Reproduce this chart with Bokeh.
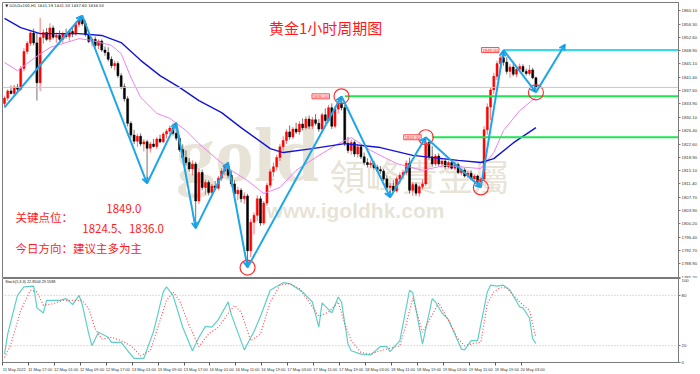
from bokeh.plotting import figure
from bokeh.layouts import column
from bokeh.models import (ColumnDataSource, Range1d, FixedTicker, NumeralTickFormatter,
                          Label, Span, Arrow, VeeHead)
from bokeh.embed import file_html
from bokeh.resources import INLINE

# ---------------- data ----------------
open_ = [1834.0, 1835.5, 1837.5, 1836.8, 1838.6, 1838.0, 1843.8, 1848.6, 1850.9, 1853.8,
         1851.0, 1839.8, 1852.5, 1853.9, 1852.0, 1855.2, 1852.6, 1853.1, 1852.0, 1853.6,
         1852.8, 1854.2, 1853.5, 1856.2, 1857.5, 1856.4, 1853.3, 1851.4, 1852.0, 1850.3,
         1851.5, 1849.0, 1848.3, 1846.4, 1844.6, 1845.2, 1841.8, 1838.7, 1835.3, 1828.4,
         1825.1, 1823.4, 1824.8, 1822.6, 1823.2, 1821.4, 1822.6, 1821.9, 1824.0, 1823.2,
         1825.4, 1826.2, 1827.1, 1825.6, 1824.2, 1821.0, 1818.8, 1817.4, 1815.6, 1817.0,
         1806.6, 1814.6, 1810.4, 1811.8, 1809.0, 1810.8, 1810.2, 1813.0, 1815.0, 1816.4,
         1813.8, 1811.4, 1808.6, 1809.6, 1807.2, 1808.0, 1792.6, 1800.6, 1802.6, 1807.2,
         1800.4, 1806.0, 1811.0, 1814.8, 1816.2, 1818.8, 1821.8, 1823.6, 1826.0, 1824.6,
         1826.8, 1826.0, 1828.2, 1827.2, 1829.6, 1827.6, 1829.4, 1828.4, 1826.8, 1830.8,
         1829.2, 1832.8, 1827.6, 1832.4, 1834.2, 1832.8, 1822.8, 1820.8, 1823.0, 1819.8,
         1821.8, 1819.0, 1817.4, 1816.8, 1817.2, 1816.0, 1815.4, 1815.0, 1812.8, 1810.4,
         1810.8, 1809.4, 1812.8, 1813.8, 1814.6, 1817.2, 1809.6, 1811.2, 1808.8, 1810.6,
         1811.4, 1823.0, 1819.0, 1817.0, 1819.2, 1817.0, 1817.8, 1816.2, 1817.4, 1815.8,
         1816.8, 1814.6, 1815.2, 1813.6, 1814.4, 1812.8, 1813.6, 1812.0, 1812.8, 1826.6,
         1833.0, 1837.8, 1841.6, 1845.2, 1846.8, 1845.6, 1843.0, 1844.2, 1842.2, 1843.6,
         1844.4, 1843.0, 1842.4, 1843.4, 1841.19]
high_ = [1836.0, 1838.0, 1839.0, 1839.2, 1839.5, 1844.5, 1849.5, 1851.5, 1854.6, 1855.0,
         1853.8, 1858.0, 1854.8, 1855.2, 1856.5, 1855.9, 1853.9, 1854.5, 1854.2, 1855.0,
         1854.8, 1855.2, 1856.8, 1858.0, 1858.7, 1857.2, 1854.2, 1852.6, 1852.8, 1852.0,
         1852.0, 1850.0, 1849.8, 1847.2, 1846.0, 1845.8, 1842.5, 1839.6, 1836.0, 1829.0,
         1826.6, 1825.5, 1825.6, 1824.0, 1823.8, 1823.2, 1824.0, 1824.6, 1825.2, 1826.0,
         1826.8, 1827.8, 1828.3, 1828.6, 1825.0, 1822.5, 1820.8, 1818.6, 1818.0, 1817.6,
         1815.8, 1815.4, 1812.6, 1812.4, 1811.4, 1812.2, 1813.6, 1815.8, 1817.0, 1817.4,
         1815.2, 1812.4, 1810.6, 1810.2, 1809.0, 1808.6, 1801.6, 1803.4, 1808.2, 1808.0,
         1806.6, 1811.8, 1815.6, 1817.4, 1819.6, 1822.6, 1824.8, 1826.8, 1827.8, 1827.4,
         1828.6, 1829.0, 1829.8, 1830.4, 1830.6, 1830.2, 1831.0, 1829.6, 1831.4, 1832.6,
         1833.6, 1834.0, 1833.2, 1835.0, 1836.0, 1833.6, 1824.6, 1823.8, 1823.6, 1822.6,
         1822.4, 1820.2, 1818.6, 1818.0, 1817.8, 1816.8, 1816.4, 1815.6, 1813.8, 1811.6,
         1812.4, 1813.4, 1814.6, 1815.4, 1818.0, 1818.8, 1812.0, 1811.8, 1811.2, 1812.6,
         1824.5, 1823.8, 1822.0, 1819.8, 1820.0, 1818.4, 1818.6, 1818.0, 1818.2, 1817.6,
         1817.4, 1815.6, 1815.8, 1815.0, 1815.2, 1814.2, 1814.0, 1813.2, 1827.6, 1834.0,
         1838.6, 1842.6, 1846.0, 1847.6, 1849.0, 1847.0, 1845.0, 1845.2, 1844.4, 1845.2,
         1845.0, 1843.8, 1844.8, 1844.0, 1841.50]
low_ = [1832.9, 1834.8, 1836.5, 1836.0, 1837.2, 1837.5, 1843.0, 1847.8, 1850.2, 1850.3,
        1834.8, 1837.5, 1850.8, 1851.5, 1851.2, 1852.0, 1851.0, 1851.4, 1851.0, 1852.2,
        1851.6, 1852.6, 1853.0, 1855.4, 1855.8, 1852.8, 1850.9, 1850.0, 1849.6, 1849.2,
        1848.5, 1847.4, 1845.8, 1843.9, 1843.3, 1841.2, 1838.0, 1834.5, 1827.5, 1824.2,
        1822.6, 1821.8, 1822.0, 1820.5, 1811.5, 1820.2, 1821.6, 1821.2, 1822.8, 1822.8,
        1824.2, 1825.4, 1825.0, 1823.5, 1820.4, 1818.2, 1816.6, 1814.8, 1813.8, 1798.9,
        1805.8, 1809.6, 1808.4, 1808.2, 1808.0, 1809.6, 1809.6, 1812.2, 1813.8, 1813.0,
        1810.6, 1807.6, 1806.8, 1806.2, 1805.8, 1787.9, 1790.8, 1797.2, 1801.0, 1799.6,
        1799.8, 1805.2, 1810.2, 1813.4, 1815.2, 1817.8, 1820.8, 1822.6, 1823.8, 1824.0,
        1825.4, 1825.2, 1826.4, 1826.6, 1826.8, 1826.8, 1827.8, 1826.0, 1826.2, 1828.4,
        1828.6, 1826.8, 1827.0, 1831.2, 1832.0, 1822.0, 1820.0, 1819.6, 1819.0, 1818.8,
        1818.4, 1816.6, 1816.0, 1815.8, 1815.4, 1814.8, 1814.2, 1812.2, 1809.6, 1807.6,
        1808.8, 1809.0, 1811.4, 1812.6, 1813.8, 1808.6, 1808.0, 1808.0, 1807.8, 1809.8,
        1810.8, 1818.0, 1816.2, 1816.4, 1816.4, 1816.0, 1815.6, 1815.8, 1815.4, 1815.2,
        1814.2, 1813.8, 1813.2, 1813.0, 1812.4, 1812.0, 1811.4, 1810.4, 1812.4, 1825.2,
        1829.4, 1836.6, 1840.6, 1843.4, 1844.6, 1842.2, 1841.2, 1841.6, 1841.4, 1842.8,
        1842.6, 1841.8, 1841.8, 1840.8, 1837.60]
close_ = [1835.5, 1837.5, 1836.8, 1838.6, 1838.0, 1843.8, 1848.6, 1850.9, 1853.8, 1851.0,
          1839.8, 1852.5, 1853.9, 1852.0, 1855.2, 1852.6, 1853.1, 1852.0, 1853.6, 1852.8,
          1854.2, 1853.5, 1856.2, 1857.5, 1856.4, 1853.3, 1851.4, 1852.0, 1850.3, 1851.5,
          1849.0, 1848.3, 1846.4, 1844.6, 1845.2, 1841.8, 1838.7, 1835.3, 1828.4, 1825.1,
          1823.4, 1824.8, 1822.6, 1823.2, 1821.4, 1822.6, 1821.9, 1824.0, 1823.2, 1825.4,
          1826.2, 1827.1, 1825.6, 1824.2, 1821.0, 1818.8, 1817.4, 1815.6, 1817.0, 1806.6,
          1814.6, 1810.4, 1811.8, 1809.0, 1810.8, 1810.2, 1813.0, 1815.0, 1816.4, 1813.8,
          1811.4, 1808.6, 1809.6, 1807.2, 1808.0, 1792.6, 1800.6, 1802.6, 1807.2, 1800.4,
          1806.0, 1811.0, 1814.8, 1816.2, 1818.8, 1821.8, 1823.6, 1826.0, 1824.6, 1826.8,
          1826.0, 1828.2, 1827.2, 1829.6, 1827.6, 1829.4, 1828.4, 1826.8, 1830.8, 1829.2,
          1832.8, 1827.6, 1832.4, 1834.2, 1832.8, 1822.8, 1820.8, 1823.0, 1819.8, 1821.8,
          1819.0, 1817.4, 1816.8, 1817.2, 1816.0, 1815.4, 1815.0, 1812.8, 1810.4, 1810.8,
          1809.4, 1812.8, 1813.8, 1814.6, 1817.2, 1809.6, 1811.2, 1808.8, 1810.6, 1811.4,
          1823.0, 1819.0, 1817.0, 1819.2, 1817.0, 1817.8, 1816.2, 1817.4, 1815.8, 1816.8,
          1814.6, 1815.2, 1813.6, 1814.4, 1812.8, 1813.6, 1812.0, 1812.8, 1826.6, 1833.0,
          1837.8, 1841.6, 1845.2, 1846.8, 1845.6, 1843.0, 1844.2, 1842.2, 1843.6, 1844.4,
          1843.0, 1842.4, 1843.4, 1841.2, 1838.50]

# moving averages (read at sample bars)
ma_slow_bar = [0, 5, 11, 23, 30, 36, 42, 48, 54, 60, 67, 73, 82, 86, 95, 105, 116, 126,
               140, 147, 151, 157, 164]
ma_slow_val = [1857.9, 1855.3, 1853.6, 1853.6, 1853.1, 1851.1, 1846.1, 1841.8, 1838.5,
               1834.8, 1831.4, 1827.2, 1821.3, 1820.2, 1821.3, 1822.7, 1821.6, 1819.4,
               1818.0, 1817.4, 1818.5, 1822.9, 1827.2]
ma_fast_bar = [0, 4, 9, 14, 19, 23, 27, 33, 36, 39, 42, 47, 51, 56, 60, 66, 70, 75, 80, 85,
               90, 96, 103, 107, 113, 121, 129, 136, 143, 147, 151, 154, 159, 164]
ma_fast_val = [1845.5, 1843.2, 1846.6, 1849.7, 1851.1, 1852.2, 1851.7, 1850.3, 1848.0,
               1841.3, 1835.7, 1831.2, 1829.8, 1826.4, 1822.7, 1818.0, 1815.2, 1812.3,
               1808.7, 1810.4, 1815.2, 1818.8, 1822.7, 1824.4, 1820.8, 1817.1, 1815.2,
               1816.6, 1816.0, 1815.7, 1820.2, 1826.4, 1832.0, 1835.7]

# zigzag swing points
zig_bar = [0, 24, 44, 53, 59, 69, 75, 104, 119, 130, 147, 154, 164, 173]
zig_price = [1832.9, 1858.7, 1811.5, 1828.6, 1798.9, 1817.4, 1787.9, 1836.0, 1807.6,
             1824.5, 1810.4, 1849.0, 1837.1, 1850.6]
circled = [6, 7, 9, 10, 12]

# key levels
level_price = [1836.0, 1824.5, 1849.0]
level_from = [105, 132, 154]
level_text = ["1836.00", "1824.50", "1849.00"]
level_color = ["#1ee650", "#1ee650", "#2fdcf2"]
last_price = 1838.50

price_ticks = [1860.10, 1856.30, 1852.60, 1848.90, 1845.10, 1841.40, 1837.60, 1833.90,
               1830.10, 1826.40, 1822.60, 1818.90, 1815.10, 1811.40, 1807.70, 1803.90,
               1800.20, 1796.40, 1792.70, 1788.90, 1785.20]

time_labels = ["11 May 2022", "11 May 17:00", "12 May 01:00", "12 May 09:00",
               "12 May 17:00", "13 May 01:00", "13 May 09:00", "13 May 17:00",
               "16 May 01:00", "16 May 11:00", "16 May 19:00", "17 May 03:00",
               "17 May 11:00", "17 May 19:00", "18 May 03:00", "18 May 11:00",
               "18 May 19:00", "19 May 03:00", "19 May 11:00", "19 May 19:00",
               "20 May 03:00"]

# stochastic
k_bar = [0, 1, 4, 6, 9, 10, 12, 13, 17, 19, 21, 23, 24, 26, 27, 29, 32, 33, 36, 38,
         40, 43, 46, 49, 50, 52, 55, 58, 60, 62, 64, 66, 69, 70, 74, 77, 79, 82, 86, 88,
         92, 95, 97, 98, 101, 103, 104, 106, 107, 110, 113, 116, 118, 119, 122, 125, 126,
         129, 132, 133, 135, 137, 141, 142, 144, 146, 149, 150, 152, 154, 156, 159, 160,
         162, 163, 164]
k_val = [10, 34, 80, 90, 91, 65, 59, 74, 74, 76, 69, 80, 69, 34, 20, 36, 30, 24, 24, 14,
         5, 5, 37, 84, 90, 80, 42, 14, 30, 43, 42, 51, 72, 57, 15, 37, 55, 86, 95, 94,
         84, 72, 42, 71, 59, 78, 72, 22, 14, 10, 9, 19, 19, 13, 26, 86, 83, 22, 76, 72,
         59, 51, 16, 15, 26, 26, 84, 92, 91, 92, 86, 66, 65, 53, 28, 22.85]
d_bar = [0, 2, 5, 8, 10, 12, 15, 18, 21, 24, 26, 28, 30, 33, 36, 39, 42, 45, 48, 50,
         52, 54, 57, 60, 63, 66, 69, 71, 73, 76, 79, 82, 85, 88, 91, 94, 97, 100, 103, 105,
         107, 110, 113, 116, 119, 122, 124, 126, 129, 131, 134, 137, 140, 142, 145, 147,
         149, 151, 153, 155, 157, 159, 162, 164]
d_val = [6, 22, 62, 86, 84, 68, 70, 74, 74, 74, 64, 40, 28, 30, 26, 20, 8, 14, 50, 74,
         84, 74, 44, 19, 34, 42, 58, 68, 60, 26, 34, 72, 92, 94, 88, 72, 55, 60, 72, 46,
         26, 12, 10, 14, 17, 20, 46, 77, 36, 50, 71, 50, 28, 20, 23, 24, 70, 84, 89, 89,
         80, 72, 62, 29.56]
stoch_levels = [20, 80]
stoch_ticks = [0, 20, 80, 100]

# ---------------- styling ----------------
RED = "#ff1a1a"
ZIG = "#1ea6e8"
XR = Range1d(-0.62, 208.0)

p1 = figure(width=700, height=278, x_range=XR, y_range=Range1d(1785.1, 1862.35),
            output_backend="svg", toolbar_location=None, x_axis_location=None,
            y_axis_location="right", min_border_left=2, min_border_right=20,
            min_border_top=2, min_border_bottom=1)
p1.grid.visible = False
p1.outline_line_color = "#7a7a7a"
p1.background_fill_color = "white"
ya = p1.yaxis[0]
ya.ticker = FixedTicker(ticks=price_ticks)
ya.formatter = NumeralTickFormatter(format="0.00")
ya.major_label_text_font = "Liberation Sans"
ya.major_label_text_font_size = "4.3px"
ya.major_label_text_color = "#333333"
ya.major_tick_out = 2
ya.major_tick_in = 0
ya.minor_tick_out = 0
ya.minor_tick_in = 0
ya.major_label_standoff = 1
ya.axis_line_color = "#7a7a7a"
ya.major_tick_line_color = "#7a7a7a"

# watermark
wm = "#d9d1bc"
p1.add_layout(Label(x=52.9, y=1807.3, text="gold", text_font="Liberation Serif",
                    text_font_style="bold", text_font_size="78px", text_color=wm,
                    text_alpha=0.6, level="underlay"))
p1.add_layout(Label(x=100.3, y=1813.8, text="領峰貴金屬", text_font="Noto Sans CJK TC",
                    text_font_size="36px", text_color=wm, text_alpha=0.6,
                    text_baseline="middle", level="underlay"))
p1.add_layout(Label(x=80.9, y=1803.9, text="www.igoldhk.com", text_font="Liberation Sans",
                    text_font_style="bold", text_font_size="21px", text_color=wm,
                    text_alpha=0.6, text_baseline="middle", level="underlay"))

p1.add_layout(Span(location=last_price, dimension="width", line_color="#c8c8c8",
                   line_width=1))

# candles
bars = list(range(len(close_)))
col = ["#ff0000" if c >= o else "#000000" for o, c in zip(open_, close_)]
src = ColumnDataSource(dict(x=bars, h=high_, l=low_,
                            top=[max(o, c) for o, c in zip(open_, close_)],
                            bot=[min(o, c) for o, c in zip(open_, close_)], col=col))
p1.segment(x0="x", y0="l", x1="x", y1="h", line_color="col", line_alpha=0.55,
           line_width=1, source=src)
p1.vbar(x="x", width=0.62, top="top", bottom="bot", fill_color="col", line_color="col",
        line_width=0.5, source=src)

# moving averages
p1.line(ma_fast_bar, ma_fast_val, line_color="#ee82ee", line_width=1)
p1.line(ma_slow_bar, ma_slow_val, line_color="#1414d8", line_width=1.4)

# key levels
p1.segment(x0=level_from, x1=[XR.end] * len(level_from), y0=level_price, y1=level_price,
           line_color=level_color, line_width=2)
label_end = [100.3, 128.6, 152.6]
for xe, yv, t in zip(label_end, level_price, level_text):
    p1.add_layout(Label(x=xe, y=yv, text=t, text_align="right", text_baseline="middle",
                        text_font="Liberation Sans", text_font_size="4.3px",
                        text_color=RED, background_fill_color="#ffe4e4",
                        border_line_color="#ff5050", padding=1))

# zigzag
zsrc = ColumnDataSource(dict(x0=zig_bar[:-1], y0=zig_price[:-1],
                             x1=zig_bar[1:], y1=zig_price[1:]))
p1.add_layout(Arrow(end=VeeHead(size=6, line_color=ZIG, line_width=1.5),
                    x_start="x0", y_start="y0", x_end="x1", y_end="y1", source=zsrc,
                    line_color=ZIG, line_width=2))
p1.scatter([zig_bar[i] for i in circled], [zig_price[i] for i in circled],
           marker="circle", size=15, fill_alpha=0, line_color="#ff3030", line_width=1.2)

# texts
p1.add_layout(Label(x=0.2, y=1862.1, text="▼ GOLDx100,H1  1841.19 1841.50 1837.60 1838.50",
                    text_font="DejaVu Sans", text_font_size="3.8px", text_color="#222222",
                    text_baseline="top"))
p1.add_layout(Label(x=99.1, y=1855.3, text="黄金1小时周期图", text_font="Noto Sans CJK SC",
                    text_font_size="15px", text_color=RED, text_align="center",
                    text_baseline="middle"))
p1.add_layout(Label(x=3.4, y=1802.2, text="关键点位：", text_font="Noto Sans CJK SC",
                    text_font_size="11.5px", text_color=RED, text_baseline="middle"))
p1.add_layout(Label(x=31.4, y=1804.5, text="1849.0", text_font="Noto Sans CJK SC",
                    text_font_size="11.5px", text_color=RED, text_baseline="middle"))
p1.add_layout(Label(x=24.0, y=1799.1, text="1824.5、1836.0", text_font="Noto Sans CJK SC",
                    text_font_size="11.5px", text_color=RED, text_baseline="middle"))
p1.add_layout(Label(x=3.4, y=1793.5, text="今日方向：建议主多为主", text_font="Noto Sans CJK SC",
                    text_font_size="11.5px", text_color=RED, text_baseline="middle"))
p1.add_layout(Label(x=XR.end, y=last_price, x_offset=1, text="1838.50",
                    text_font="Liberation Sans", text_font_size="4.3px",
                    text_color="white", background_fill_color="black",
                    text_baseline="middle", padding=1))

# ---------------- stochastic panel ----------------
p2 = figure(width=700, height=96, x_range=XR, y_range=Range1d(0, 100),
            output_backend="svg", toolbar_location=None, y_axis_location="right",
            min_border_left=2, min_border_right=20, min_border_top=0,
            min_border_bottom=10)
p2.grid.visible = False
p2.outline_line_color = "#7a7a7a"
for lv in stoch_levels:
    p2.add_layout(Span(location=lv, dimension="width", line_color="#b8b8b8",
                       line_dash="1 2", line_width=1))
p2.line(k_bar, k_val, line_color="#5ecfc8", line_width=1.2)
p2.line(d_bar, d_val, line_color="#ff4d4d", line_width=1.2, line_dash="1 2")
p2.add_layout(Label(x=0.2, y=98.5, text="Stoch(5,3,3) 22.8504 29.5588",
                    text_font="Liberation Sans", text_font_size="3.8px",
                    text_color="#222222", text_baseline="top"))

y2 = p2.yaxis[0]
y2.ticker = FixedTicker(ticks=stoch_ticks)
y2.major_label_text_font = "Liberation Sans"
y2.major_label_text_font_size = "4.3px"
y2.major_label_text_color = "#333333"
y2.major_tick_out = 2
y2.major_tick_in = 0
y2.minor_tick_out = 0
y2.minor_tick_in = 0
y2.major_label_standoff = 1
y2.axis_line_color = "#7a7a7a"
y2.major_tick_line_color = "#7a7a7a"

tick_pos = [3 + 8 * k for k in range(len(time_labels))]
x2 = p2.xaxis[0]
x2.ticker = FixedTicker(ticks=tick_pos, minor_ticks=[8 * k - 0.6 for k in range(len(time_labels))])
x2.major_label_overrides = {t: s for t, s in zip(tick_pos, time_labels)}
x2.major_label_text_font = "Liberation Sans"
x2.major_label_text_font_size = "4px"
x2.major_label_text_color = "#333333"
x2.major_tick_out = 0
x2.major_tick_in = 0
x2.minor_tick_out = 3
x2.minor_tick_in = 0
x2.minor_tick_line_color = "#555555"
x2.major_label_standoff = 1
x2.axis_line_color = "#7a7a7a"

layout = column(p1, p2, spacing=0)
open("out.html", "w").write(file_html(layout, INLINE))
